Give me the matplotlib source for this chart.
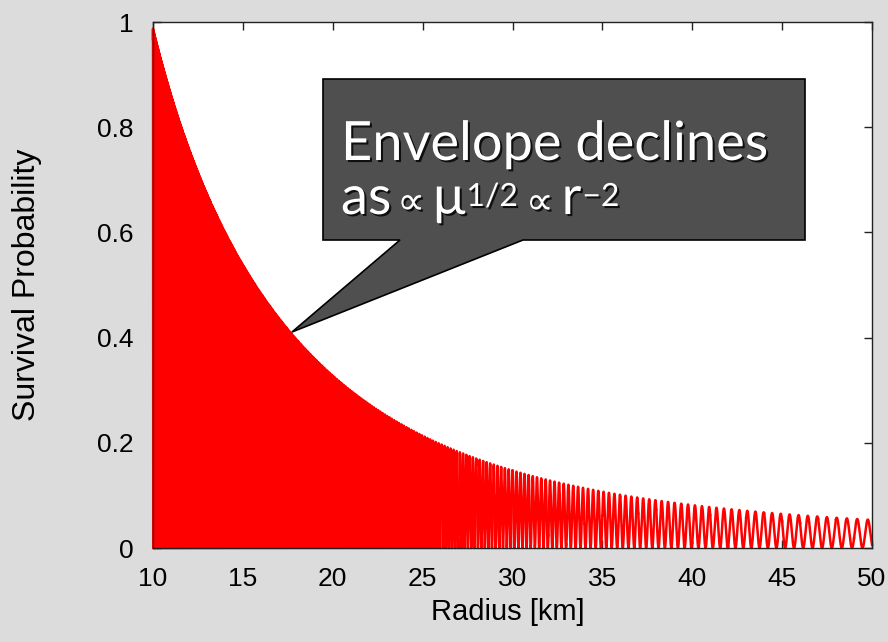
import numpy as np
import matplotlib.pyplot as plt
from matplotlib.patches import Polygon
import matplotlib.patheffects as pe

plt.rcParams['agg.path.chunksize'] = 10000
plt.rcParams['font.family'] = ['Liberation Sans', 'DejaVu Sans']

# envelope of the survival probability
env_r = [10, 11.2, 13.5, 17.1, 17.7, 20, 25.4, 30.4, 35, 40, 45, 50]
env_p = [1.0, 0.823, 0.633, 0.443, 0.41, 0.325, 0.205, 0.143, 0.107, 0.082, 0.066, 0.053]
# oscillation wavelength [km] read at a few radii
wl_r = [31, 40.5, 49]
wl_km = [0.23, 0.41, 0.56]

xticks = [10, 15, 20, 25, 30, 35, 40, 45, 50]
yticks = [0, 0.2, 0.4, 0.6, 0.8, 1]
ytick_labels = ['0', '0.2', '0.4', '0.6', '0.8', '1']

#%% build the curve
K = np.mean(np.pi * np.array(wl_r)**2 / np.array(wl_km))
r = np.linspace(10, 50, 400000)
# smooth log-log fit through the envelope readings
coef = np.polyfit(np.log(env_r), np.log(env_p), 4)
env = np.exp(np.polyval(coef, np.log(r)))
prob = env * np.sin(K / r)**2

#%% plot
fig = plt.figure(figsize=(8.88, 6.42), dpi=100, facecolor='#dcdcdc')
ax = fig.add_axes([153/888, 94/642, 719/888, 526/642])
ax.plot(r, prob, color='#ff0000', lw=1.8, clip_on=False, zorder=2)

ax.set_xlim(10, 50)
ax.set_ylim(0, 1)
ax.set_xticks(xticks)
ax.set_yticks(yticks)
ax.set_yticklabels(ytick_labels)
ax.tick_params(direction='in', length=6, width=1, pad=14, labelsize=19,
               top=True, right=True, colors='#222222', labelcolor='black')
for s in ax.spines.values():
    s.set_linewidth(1)
    s.set_color('#222222')
    s.set_zorder(3)

ax.set_xlabel('Radius [km]', fontsize=21)
ax.set_ylabel('Survival Probability', fontsize=23)
ax.xaxis.set_label_coords(0.493, -0.095)
ax.yaxis.set_label_coords(-0.154, 0.5)

# callout (pixel positions of the reference)
W, H = 888, 642
def fp(x, y):
    return (x / W, 1 - y / H)

pts = [fp(323, 79), fp(805, 79), fp(805, 240), fp(523, 240), fp(292, 332),
       fp(400, 240), fp(323, 240)]
fig.patches.append(Polygon(pts, closed=True, transform=fig.transFigure,
                           facecolor='#4f4f4f', edgecolor='black', lw=1.2, zorder=5))

shadow = [pe.SimplePatchShadow(offset=(1.5, -1.5), shadow_rgbFace='black', alpha=0.8),
          pe.Normal()]
fig.text(*fp(341, 160), 'Envelope declines', color='white', fontsize=39,
         family=['Lato', 'DejaVu Sans'], va='baseline', path_effects=shadow, zorder=6)

# second line built piece by piece: (text, baseline px, size, font, gap after px)
pieces = [('as', 214, 39, 'Lato', 6),
          ('\u221d', 214, 28, 'DejaVu Sans', 8),
          ('\u03bc', 214, 39, 'Lato', 1),
          ('1/2', 206, 23, 'Lato', 8),
          ('\u221d', 214, 28, 'DejaVu Sans', 8),
          ('r', 214, 39, 'Lato', 1),
          ('\u22122', 206, 23, 'Lato', 0)]
renderer = fig.canvas.get_renderer()
x = 341
for txt, py, size, fam, gap in pieces:
    t = fig.text(*fp(x, py), txt, color='white', fontsize=size,
                 family=[fam, 'DejaVu Sans'], va='baseline', path_effects=shadow, zorder=6)
    bb = t.get_window_extent(renderer)
    x = bb.x1 + gap

fig.savefig('out.png', dpi=100, facecolor=fig.get_facecolor())
